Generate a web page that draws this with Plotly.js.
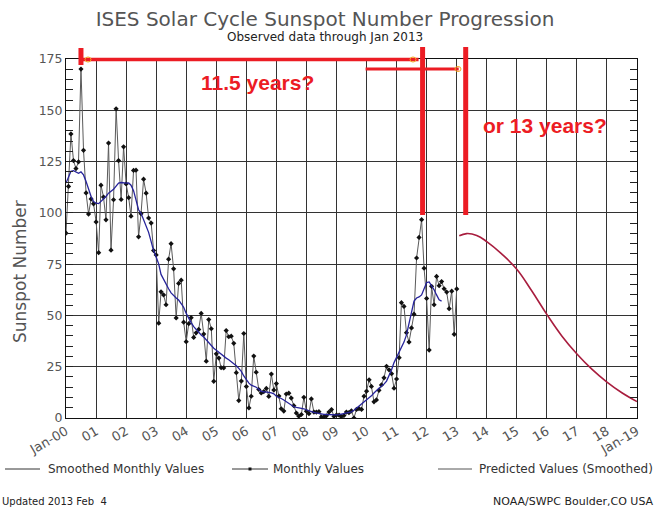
<!DOCTYPE html>
<html>
<head>
<meta charset="utf-8">
<script src="https://cdn.plot.ly/plotly-3.0.1.min.js"></script>
<style>html,body{margin:0;padding:0;background:#fff;}#chart{width:657px;height:509px;}</style>
</head>
<body>
<div id="chart"></div>
<script>
// ---- Data ----
const monthlyStart = '2000-01';
const monthlySSN = [
 90.1,112.9,138.5,125.5,121.6,124.9,170.1,130.5,109.7,99.4,106.8,104.4,
 95.6,80.6,113.5,107.7,96.6,134.0,81.8,106.4,150.7,125.5,106.5,132.2,
 114.1,107.4,98.4,120.7,120.8,88.3,99.6,116.4,109.6,97.5,95.0,81.6,
 79.5,46.2,61.5,60.0,55.2,77.4,85.0,72.7,48.8,65.6,67.2,46.7,
 37.2,46.0,48.9,39.3,41.5,43.2,51.0,40.9,27.7,48.0,43.5,17.9,
 31.3,29.2,24.5,24.4,42.6,39.6,39.9,36.4,22.1,8.5,18.0,41.2,
 15.3,4.9,10.6,30.2,22.3,13.9,12.2,12.9,14.4,10.5,21.4,13.6,
 16.8,10.7,4.5,3.4,11.7,12.1,9.7,6.0,2.4,0.9,1.7,10.1,
 3.3,2.1,9.3,2.9,2.9,3.1,0.5,0.5,1.1,2.9,4.1,0.8,
 1.5,1.4,0.7,1.2,2.9,2.6,3.5,0.0,4.2,4.6,4.2,10.6,
 13.1,18.6,15.4,7.9,8.8,13.5,16.1,19.6,25.2,23.5,21.6,14.5,
 19.0,29.4,56.2,54.4,41.6,37.0,43.9,50.6,78.0,88.0,96.7,73.0,
 58.3,33.1,64.2,55.2,69.0,64.5,66.5,63.0,61.4,53.3,61.8,40.8,
 62.9
];
const smoothedSSN = [
 114.5,117.5,120.3,120.6,119.8,119.3,120.0,118.5,115.3,111.5,108.0,105.5,
 104.7,104.5,105.5,106.5,108.0,109.6,110.5,111.5,113.0,114.5,114.8,114.6,
 114.5,114.6,113.5,110.8,106.0,101.5,99.8,96.5,93.5,90.5,86.0,81.5,
 78.5,75.0,70.0,67.5,65.0,63.0,61.0,59.5,58.5,57.5,56.0,54.0,
 51.0,48.5,46.5,44.5,43.0,41.5,40.5,39.5,38.0,36.5,35.0,34.0,
 33.0,32.0,30.8,30.0,29.2,28.4,27.5,26.5,25.5,24.2,22.7,20.5,
 18.5,17.0,16.0,15.5,15.0,14.0,13.0,12.8,12.8,12.5,12.2,11.8,
 10.6,10.2,9.5,8.8,8.0,7.2,6.0,5.5,5.2,5.0,4.8,4.5,
 4.0,3.5,3.2,2.8,2.5,2.2,2.0,1.8,1.7,1.6,1.5,1.5,
 1.5,1.6,1.8,2.0,2.2,2.5,3.0,3.8,4.8,6.0,7.0,7.8,
 8.5,9.5,10.8,12.2,13.5,14.5,15.5,16.5,18.0,20.5,23.5,27.0,
 29.5,31.6,34.0,37.0,40.5,46.0,52.5,57.0,58.5,59.0,60.0,63.0,
 66.0,66.3,64.5,62.5,60.0,57.6,57.0
];
const predictedDates = ['2013-02-01','2013-05-01','2013-09-01','2014-01-01','2014-07-01','2015-01-01','2015-07-01','2016-01-01','2016-07-01','2017-01-01','2017-07-01','2018-01-01','2018-07-01','2019-01-01'];
const predictedSSN = [88.8,89.9,89.0,86.0,80.0,72.5,62.0,50.5,40.0,31.2,23.8,17.5,12.3,8.0];
const tickYears = [2000,2001,2002,2003,2004,2005,2006,2007,2008,2009,2010,2011,2012,2013,2014,2015,2016,2017,2018,2019];
const tickLabels = ['Jan-00','01','02','03','04','05','06','07','08','09','10','11','12','13','14','15','16','17','18','Jan-19'];

// month strings from start
function monthSeq(start, n){
  const [y0,m0] = start.split('-').map(Number);
  const out = [];
  for (let i=0;i<n;i++){
    const t = (m0-1)+i;
    const y = y0 + Math.floor(t/12), m = (t%12)+1;
    out.push(y + '-' + String(m).padStart(2,'0') + '-01');
  }
  return out;
}
const monthlyDates = monthSeq(monthlyStart, monthlySSN.length);
const smoothedDates = monthSeq(monthlyStart, smoothedSSN.length);

const FONT = 'DejaVu Sans, Verdana, sans-serif';
const RED = '#ec1c24';

const traces = [
  {x: monthlyDates, y: monthlySSN, type:'scatter', mode:'lines+markers', name:'Monthly Values',
   line:{color:'#5a5a5a', width:1}, marker:{symbol:'diamond', size:4, color:'#111'}},
  {x: smoothedDates, y: smoothedSSN, type:'scatter', mode:'lines', name:'Smoothed Monthly Values',
   line:{color:'#26239a', width:1.3}},
  {x: predictedDates, y: predictedSSN, type:'scatter', mode:'lines', name:'Predicted Values (Smoothed)',
   line:{color:'#a81d3e', width:1.6, shape:'spline', smoothing:1.2}}
];

// pixel helpers for decoration (plot area: x 66..637, y 59..418)
const px = v => (v-66)/571;
const py = v => (418-v)/359;

const shapes = [
  // red annotation lines
  {type:'line', xref:'x', yref:'paper', x0:'2000-07-01', x1:'2000-07-01', y0:py(48), y1:py(65), line:{color:RED, width:5}},
  {type:'line', xref:'x', yref:'paper', x0:'2000-07-01', x1:'2011-09-25', y0:py(59.5), y1:py(59.5), line:{color:RED, width:3.5}},
  {type:'line', xref:'x', yref:'paper', x0:'2011-11-13', x1:'2011-11-13', y0:py(47), y1:py(215), line:{color:RED, width:5}},
  {type:'line', xref:'x', yref:'paper', x0:'2009-12-20', x1:'2013-01-25', y0:py(69), y1:py(69), line:{color:RED, width:3}},
  {type:'line', xref:'x', yref:'paper', x0:'2013-04-20', x1:'2013-04-20', y0:py(47), y1:py(215), line:{color:RED, width:5}},
  {type:'circle', xref:'paper', yref:'paper', xsizemode:'pixel', ysizemode:'pixel', xanchor:px(88), yanchor:py(59.5), x0:-3, x1:3, y0:-2.5, y1:2.5, line:{color:'#f5a623', width:1}},
  {type:'circle', xref:'paper', yref:'paper', xsizemode:'pixel', ysizemode:'pixel', xanchor:px(413), yanchor:py(59.5), x0:-3, x1:3, y0:-2.5, y1:2.5, line:{color:'#f5a623', width:1}},
  {type:'circle', xref:'paper', yref:'paper', xsizemode:'pixel', ysizemode:'pixel', xanchor:px(458), yanchor:py(69), x0:-3, x1:3, y0:-2.5, y1:2.5, line:{color:'#f5a623', width:1}},
  // legend samples
  {type:'line', xref:'paper', yref:'paper', x0:px(5), x1:px(40), y0:py(469), y1:py(469), line:{color:'#333', width:1}},
  {type:'line', xref:'paper', yref:'paper', x0:px(232), x1:px(268), y0:py(469), y1:py(469), line:{color:'#333', width:1}},
  {type:'line', xref:'paper', yref:'paper', x0:px(438), x1:px(472), y0:py(469), y1:py(469), line:{color:'#555', width:1}},
  {type:'rect', xref:'paper', yref:'paper', xsizemode:'pixel', ysizemode:'pixel', xanchor:px(250), yanchor:py(469), x0:-1.5, x1:1.5, y0:-1.5, y1:1.5, fillcolor:'#111', line:{width:0}}
];

const ann = (text, x, y, size, color, extra) => Object.assign({text, x, y, xref:'paper', yref:'paper', xanchor:'center', yanchor:'middle', showarrow:false, font:{family:FONT, size, color}}, extra||{});
const boldRed = {family:'Liberation Sans, Arial, sans-serif', size:21, color:RED, weight:'bold'};

const annotations = [
  ann('Observed data through Jan 2013', px(325), py(37), 12, '#222'),
  ann('11.5 years?', px(257), py(82), 21, RED, {font:boldRed}),
  ann('or 13 years?', px(545), py(125), 21, RED, {font:boldRed}),
  ann('Sunspot Number', px(20), py(272), 17, '#555', {textangle:-90}),
  ann('Smoothed Monthly Values', px(46), py(469), 12, '#333', {xanchor:'left'}),
  ann('Monthly Values', px(271), py(469), 12, '#333', {xanchor:'left'}),
  ann('Predicted Values (Smoothed)', px(477), py(469), 12, '#333', {xanchor:'left'}),
  ann('Updated 2013 Feb  4', px(0), py(501), 10, '#222', {xanchor:'left'}),
  ann('NOAA/SWPC Boulder,CO USA', px(656), py(501), 11, '#222', {xanchor:'right'})
];

const layout = {
  width:657, height:509,
  margin:{l:66, r:20, t:59, b:91, pad:0},
  paper_bgcolor:'#fff', plot_bgcolor:'#fff',
  showlegend:false,
  font:{family:FONT, color:'#444'},
  title:{text:'ISES Solar Cycle Sunspot Number Progression', xref:'container', yref:'container', x:325/657, y:1-19/509, xanchor:'center', yanchor:'middle', font:{family:FONT, size:20, color:'#555'}},
  xaxis:{type:'date', range:['2000-01-01','2019-01-01'],
    tickvals: tickYears.map(y => y + '-01-01'), ticktext: tickLabels, tickangle:-30,
    tickfont:{family:FONT, size:13, color:'#555'}, ticks:'',
    showgrid:true, gridcolor:'#333', gridwidth:1,
    showline:true, linecolor:'#111', linewidth:1, mirror:true, zeroline:false},
  yaxis:{range:[0,175], tickvals:[0,25,50,75,100,125,150,175],
    tickfont:{family:FONT, size:12.5, color:'#555'}, ticks:'inside', ticklen:7, tickcolor:'#222',
    minor:{dtick:5, ticks:'inside', ticklen:7, tickcolor:'#222', showgrid:false},
    showgrid:true, gridcolor:'#333', gridwidth:1,
    showline:true, linecolor:'#111', linewidth:1, mirror:'allticks', zeroline:false},
  shapes, annotations
};

Plotly.newPlot('chart', traces, layout, {staticPlot:true, displayModeBar:false});
</script>
</body>
</html>
